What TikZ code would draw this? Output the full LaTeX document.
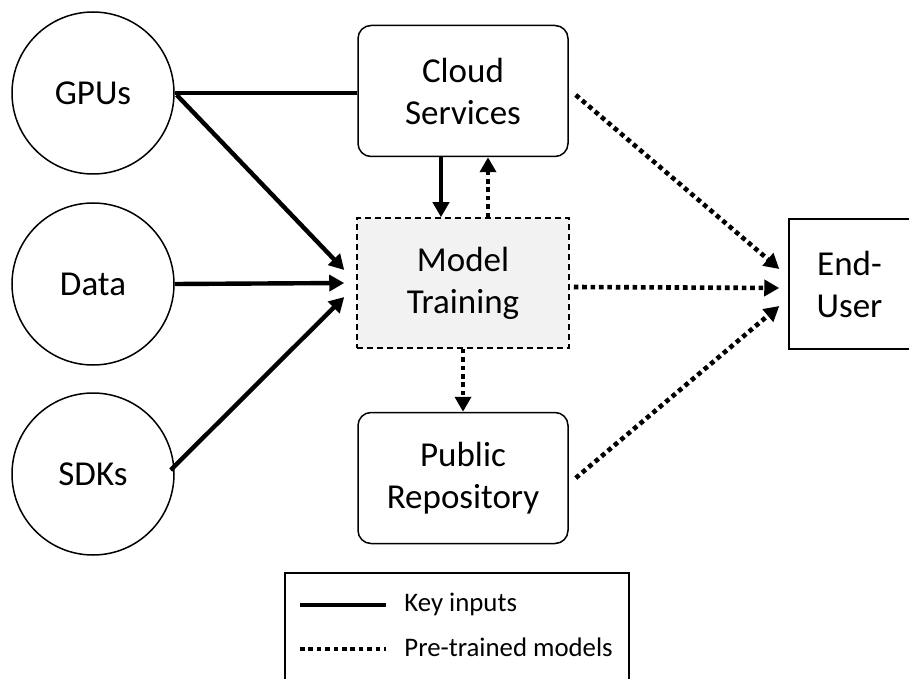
\documentclass[tikz,border=0pt]{standalone}
\usepackage{fontspec}
\setmainfont{Carlito}
\usepackage{xcolor}
\usetikzlibrary{arrows.meta}
\definecolor{trainfill}{HTML}{F2F2F2}

\tikzset{
  keyline/.style={line width=2.2pt},
  modelline/.style={line width=2.3pt, dash pattern=on 2.3pt off 1.9pt},
  tip/.style={-{Triangle[length=7.5pt,width=8pt]}}
}

\begin{document}
\begin{tikzpicture}[x=0.5pt, y=-0.5pt,
  every node/.style={font=\fontsize{17.5}{21}\selectfont, align=center},
  source/.style={draw, circle, line width=0.75pt, minimum size=81pt, inner sep=0pt},
  stage/.style={draw, rounded corners=6.5pt, line width=0.75pt, minimum width=105pt, minimum height=65.5pt},
  legendtext/.style={font=\fontsize{13.4}{16}\selectfont, anchor=west, inner sep=0pt}]
\useasboundingbox (0,0) rectangle (909,679);
\clip (0,0) rectangle (909,679);
% inputs
\node[source] (gpus) at (93,93) {GPUs};
\node[source] (data) at (93,284) {Data};
\node[source] (sdks) at (93,474) {SDKs};
% stages
\node[stage] (cloud) at (463,91) {Cloud\\Services};
\node[draw, dashed, dash pattern=on 3pt off 2pt, line width=0.75pt, fill=trainfill,
  minimum width=106pt, minimum height=65pt] (train) at (463,283) {Model\\Training};
\node[stage] (repo) at (463,478) {Public\\Repository};
\node[draw, line width=0.75pt, minimum width=60.5pt, minimum height=65pt] (user) at (849.5,284) {End-\\User};
% key inputs
\draw[keyline] (gpus.east) -- (gpus.east -| cloud.west);
\draw[keyline, tip] ([shift={(2,2)}]gpus.east) -- ([shift={(-12,-13)}]train.west);
\draw[keyline, tip] (data.east) -- ([shift={(-12,0)}]train.west);
\draw[keyline, tip] ([shift={(-4,-4)}]sdks.east) -- ([shift={(-12,14)}]train.west);
\draw[keyline, tip] ([shift={(-22,0)}]cloud.south) -- ([shift={(-22,0)}]train.north);
% pre-trained models
\draw[modelline, tip] ([shift={(25,0)}]train.north) -- ([shift={(25,0)}]cloud.south);
\draw[modelline, tip] (train.south) -- (repo.north);
\draw[modelline, tip] ([shift={(7,4)}]cloud.east) -- ([shift={(-9,-15)}]user.west);
\draw[modelline, tip] ([shift={(4,4)}]train.east) -- ([shift={(-9,4)}]user.west);
\draw[modelline, tip] ([shift={(7,0)}]repo.east) -- ([shift={(-9,22)}]user.west);
% legend
\node[draw, line width=0.75pt, anchor=north west, minimum width=172pt, minimum height=70pt] (legend) at (284,572) {};
\coordinate (keyA) at (300,605);
\coordinate (keyB) at (386,605);
\coordinate (modA) at (300,649);
\coordinate (modB) at (386,649);
\draw[keyline] (keyA) -- (keyB);
\draw[modelline] (modA) -- (modB);
\node[legendtext] (keylabel) at (404,604) {Key inputs};
\node[legendtext] (modlabel) at (404,647) {Pre-trained models};
\end{tikzpicture}
\end{document}
